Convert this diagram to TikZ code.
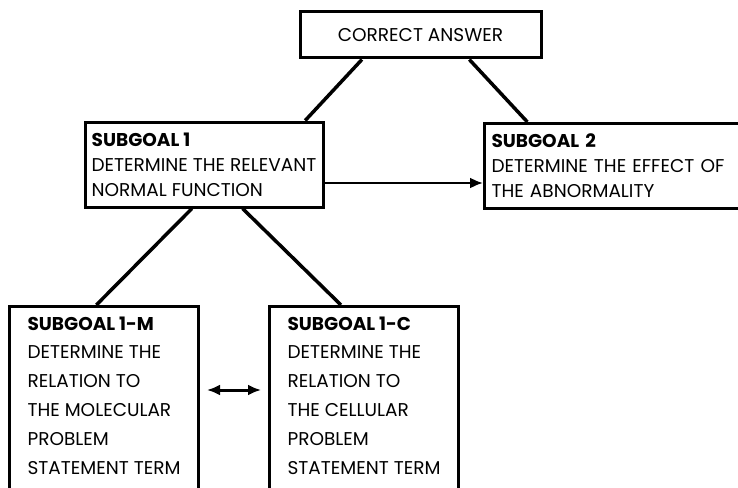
\documentclass[tikz,border=0pt]{standalone}
\usepackage{fontspec}
\setmainfont{Poppins}
\usepackage{tikz}
\usetikzlibrary{calc}
\usetikzlibrary{positioning, arrows.meta}

\begin{document}
\begin{tikzpicture}[x=1pt, y=-1pt,
                    box/.style={draw, line width=3pt, align=left, font=\fontsize{18.5}{25}\selectfont},
                    link/.style={line width=3.5pt},
                    arr/.style={-{Latex[length=13pt, width=11pt]}, line width=2.2pt}]
                    \useasboundingbox (0,0) rectangle (738,487);

                    % Nodes
                    \node[box, minimum width=241pt, minimum height=46pt] (ans) at (420.5, 35) {CORRECT ANSWER};
                    \node[box, minimum width=238pt, minimum height=85pt] (sg1) at (204, 164.5)
                        {\textbf{SUBGOAL 1}\\DETERMINE THE RELEVANT\\NORMAL FUNCTION};
                    \node[box, anchor=north west, text width=300pt, inner xsep=7pt, minimum height=85pt] (sg2) at (483, 122)
                        {\textbf{SUBGOAL 2}\\DETERMINE THE EFFECT OF\\THE ABNORMALITY};
                    \node[box, anchor=north west, minimum width=189pt, inner ysep=10pt, font=\fontsize{18.5}{28.8}\selectfont] (sgm) at (8, 305)
                        {\textbf{SUBGOAL 1-M}\\DETERMINE THE\\RELATION TO\\THE MOLECULAR\\PROBLEM\\STATEMENT TERM\\\mbox{}};
                    \node[box, anchor=north west, minimum width=189pt, inner ysep=10pt, font=\fontsize{18.5}{28.8}\selectfont] (sgc) at (268, 305)
                        {\textbf{SUBGOAL 1-C}\\DETERMINE THE\\RELATION TO\\THE CELLULAR\\PROBLEM\\STATEMENT TERM\\\mbox{}};

                    % Edges
                    % answer to subgoal 1
                    \draw[link] ($(ans.south west)!0.26!(ans.south east)$) -- ($(sg1.north west)!0.92!(sg1.north east)$);

                    % answer to subgoal 2
                    \draw[link] ($(ans.south west)!0.7!(ans.south east)$) -- ($(sg2.north west)!0.14!(sg2.north east)$);

                    % subgoal 1 to subgoal 2
                    \draw[arr] ([yshift=-18.5pt]sg1.east) -- ([yshift=-18.5pt]sg1.east -| sg2.west);

                    % subgoal 1 to 1-M
                    \draw[link] ($(sg1.south west)!0.45!(sg1.south east)$) -- ($(sgm.north west)!0.46!(sgm.north east)$);

                    % subgoal 1 to 1-C
                    \draw[link] ($(sg1.south west)!0.66!(sg1.south east)$) -- ($(sgc.north west)!0.38!(sgc.north east)$);

                    % 1-M to 1-C
                    \draw[arr, line width=3pt, {Latex[length=13pt, width=11pt]}-{Latex[length=13pt, width=11pt]}, shorten <=7pt, shorten >=7pt]
                        ([yshift=-85pt]sgm.north east) -- ([yshift=-85pt]sgc.north west);

\end{tikzpicture}
\end{document}
